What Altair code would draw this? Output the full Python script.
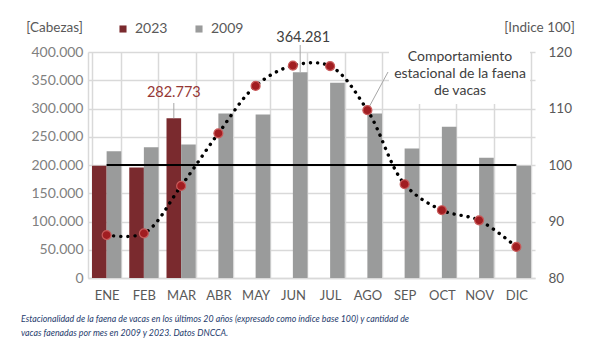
import altair as alt
import pandas as pd

months = ["ENE", "FEB", "MAR", "ABR", "MAY", "JUN", "JUL", "AGO", "SEP", "OCT", "NOV", "DIC"]
series = ["2023", "2009"]
faena_2023 = [198500, 195500, 282773]  # ENE-MAR
faena_2009 = [224500, 231500, 236500, 291000, 289500, 364281, 345500, 291000, 229000, 267500, 213000, 198500]
indice = [87.6, 87.9, 96.3, 105.6, 114.0, 117.6, 117.5, 109.7, 96.6, 92.0, 90.2, 85.5]
left_ticks = [0, 50000, 100000, 150000, 200000, 250000, 300000, 350000, 400000]
right_ticks = [80, 90, 100, 110, 120]
annotation = ["Comportamiento", "estacional de la faena", "de vacas"]
caption = [
    "Estacionalidad de la faena de vacas en los últimos 20 años (expresado como índice base 100) y cantidad de",
    "vacas faenadas por mes en 2009 y 2023. Datos DNCCA.",
]
labels = [("MAR", "2023", 282773), ("JUN", "2009", 364281)]

rows = []
for m, v in zip(months, faena_2023):
    rows.append({"mes": m, "serie": "2023", "valor": v})
for m, v in zip(months, faena_2009):
    rows.append({"mes": m, "serie": "2009", "valor": v})
bars_df = pd.DataFrame(rows)
idx_df = pd.DataFrame({"mes": months, "indice": indice})


def fmt(v):
    return f"{v:,}".replace(",", ".")


lab_df = pd.DataFrame([{"mes": m, "serie": s, "valor": v, "txt": fmt(v)} for m, s, v in labels])

FONT = "Lato"
GRID = "#d9d9d9"

x_enc = alt.X(
    "mes:N",
    sort=months,
    scale=alt.Scale(domain=months, paddingInner=0.215, paddingOuter=0.1075),
    axis=alt.Axis(
        title=None, labelAngle=0, grid=True, tickBand="extent", ticks=False,
        gridColor=GRID, gridWidth=1.5, domainColor=GRID, domainWidth=1.5,
        labelColor="#595959", labelFontSize=13, labelFont=FONT, labelPadding=11,
    ),
)
xoff = alt.XOffset("serie:N", sort=series, scale=alt.Scale(domain=series, paddingInner=0, paddingOuter=0))

y_left = alt.Y(
    "valor:Q",
    scale=alt.Scale(domain=[0, 400000], nice=False, zero=True),
    axis=alt.Axis(
        values=left_ticks, grid=True, gridColor=GRID, gridWidth=1.5, ticks=False,
        domainColor=GRID, domainWidth=1.5,
        labelExpr="datum.value == 0 ? '0' : format(datum.value / 1000, 'd') + '.000'",
        labelColor="#808080", labelFontSize=14, labelFont=FONT, labelPadding=5,
        title="[Cabezas]", titleAngle=0, titleX=-34, titleY=-25, titleAlign="center",
        titleBaseline="middle", titleFont=FONT, titleFontSize=13.5, titleFontWeight="normal",
        titleColor="#595959",
    ),
)

y_right = alt.Y(
    "indice:Q",
    scale=alt.Scale(domain=[80, 120], nice=False, zero=False),
    axis=alt.Axis(
        orient="right", values=right_ticks, grid=False, ticks=False, domain=False,
        labelColor="#595959", labelFontSize=13.5, labelFont=FONT, labelPadding=13,
        title="[Indice 100]", titleAngle=0, titleX=4, titleY=-25, titleAlign="center",
        titleBaseline="middle", titleFont=FONT, titleFontSize=13.5, titleFontWeight="normal",
        titleColor="#595959",
    ),
)

bars = alt.Chart(bars_df).mark_bar(strokeWidth=0).encode(
    x=x_enc,
    xOffset=xoff,
    y=y_left,
    color=alt.Color(
        "serie:N",
        sort=series,
        scale=alt.Scale(domain=series, range=["#7a2a2e", "#9a9b9b"]),
        legend=alt.Legend(
            title=None, orient="none", legendX=28, legendY=-30, direction="horizontal",
            symbolType="square", symbolSize=50, symbolStrokeWidth=0, labelFont=FONT,
            labelFontSize=14, labelColor="#595959", columnPadding=24, labelOffset=5,
        ),
    ),
)

lead_mar = alt.Chart(lab_df[lab_df.mes == "MAR"]).mark_rule(color="#a6a6a6", strokeWidth=1).encode(
    x=x_enc, xOffset=xoff, y=y_left, y2=alt.value(51)
)
lead_jun = alt.Chart(lab_df[lab_df.mes == "JUN"]).mark_rule(color="#a6a6a6", strokeWidth=1).encode(
    x=x_enc, xOffset=xoff, y=y_left, y2=alt.value(-7)
)
txt_mar = alt.Chart(lab_df[lab_df.mes == "MAR"]).mark_text(
    font=FONT, fontSize=14.5, dy=-25, baseline="middle", color="#953735"
).encode(x=x_enc, xOffset=xoff, y=y_left, text="txt:N")
txt_jun = alt.Chart(lab_df[lab_df.mes == "JUN"]).mark_text(
    font=FONT, fontSize=14.5, dy=-34, dx=3, baseline="middle", color="#404040"
).encode(x=x_enc, xOffset=xoff, y=y_left, text="txt:N")

left_layer = alt.layer(bars, lead_mar, lead_jun, txt_mar, txt_jun)

base_line = alt.Chart(idx_df).transform_calculate(indice="100").mark_line(
    color="black", strokeWidth=2
).encode(x=x_enc, y=y_right)
dotted = alt.Chart(idx_df).mark_line(
    interpolate="catmull-rom", color="black", strokeWidth=3.4, strokeDash=[0.1, 7], strokeCap="round"
).encode(x=x_enc, y=y_right)
lead_box = alt.Chart(idx_df[idx_df.mes == "AGO"]).mark_rule(color="#a6a6a6", strokeWidth=1).encode(
    x=x_enc, y=y_right, x2=alt.value(300), y2=alt.value(20)
)
points = alt.Chart(idx_df).mark_circle(
    size=80, color="#a11d21", opacity=1, stroke="#c85a5a", strokeWidth=1.2
).encode(x=x_enc, y=y_right)

right_layer = alt.layer(base_line, dotted, lead_box, points)

one = pd.DataFrame({"k": [0]})
box = alt.Chart(one).mark_rect(fill="white").encode(
    x=alt.value(301), x2=alt.value(442), y=alt.value(-6), y2=alt.value(52)
)
box_text = alt.Chart(one).mark_text(
    font=FONT, fontSize=14, color="#404040", align="center", baseline="middle", lineHeight=17
).encode(x=alt.value(372), y=alt.value(5), text=alt.value(annotation))
cap_text = alt.Chart(one).mark_text(
    font=FONT, fontSize=8.8, fontStyle="italic", color="#1f3d6e",
    align="left", baseline="middle", lineHeight=14
).encode(x=alt.value(-67), y=alt.value(267), text=alt.value(caption))

chart = alt.layer(left_layer, right_layer, box, box_text, cap_text).resolve_scale(
    y="independent"
).properties(
    width=447,
    height=226,
    padding={"left": 80, "top": 44, "right": 55, "bottom": 68},
    autosize=alt.AutoSizeParams(type="none"),
).configure_view(stroke=None)

chart.save("out.html", embed_options={"renderer": "svg", "actions": False})
